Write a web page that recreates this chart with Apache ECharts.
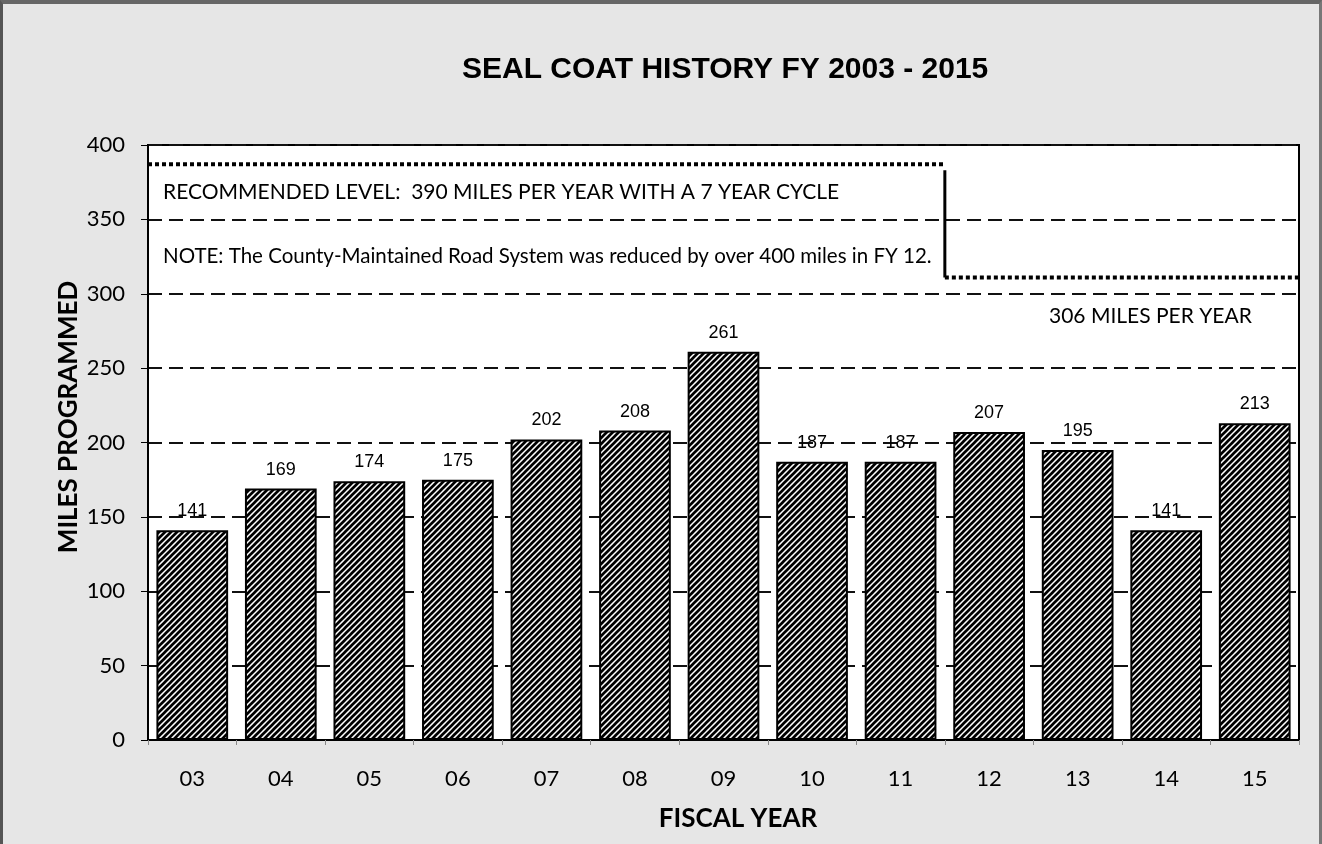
<!DOCTYPE html>
<html>
<head>
<meta charset="utf-8">
<script src="https://cdn.jsdelivr.net/npm/echarts@6/dist/echarts.min.js"></script>
<style>
  html, body { margin: 0; padding: 0; }
  body { width: 1322px; height: 844px; background: #e6e6e6; }
  #chart { width: 1322px; height: 844px; box-sizing: border-box; border-left: 3px solid #555; border-top: 4px solid #666; border-right: 3px solid #777; }
</style>
</head>
<body>
<div id="chart"></div>
<script>
  // fiscal years and miles programmed
  const years = ['03', '04', '05', '06', '07', '08', '09', '10', '11', '12', '13', '14', '15'];
  const miles = [141, 169, 174, 175, 202, 208, 261, 187, 187, 207, 195, 141, 213];
  const yTicks = [0, 50, 100, 150, 200, 250, 300, 350, 400];
  // recommended levels as drawn (before / after the FY 12 reduction)
  const levelBefore = 387;
  const levelAfter = 311;
  const changeAt = 9; // boundary between FY 11 and FY 12

  // diagonal hatch for the bars
  function hatch() {
    const s = 6;
    const c = document.createElement('canvas');
    c.width = s; c.height = s;
    const g = c.getContext('2d');
    g.fillStyle = '#fff';
    g.fillRect(0, 0, s, s);
    g.strokeStyle = '#000';
    g.lineWidth = 2.7;
    g.beginPath();
    g.moveTo(-1, 1); g.lineTo(1, -1);
    g.moveTo(0, s); g.lineTo(s, 0);
    g.moveTo(s - 1, s + 1); g.lineTo(s + 1, s - 1);
    g.stroke();
    return c;
  }

  const myChart = echarts.init(document.getElementById('chart'));
  const calibri = 'Lato, "Open Sans", sans-serif';
  const arial = '"Liberation Sans", Arial, sans-serif';
  const option = {
    animation: false,
    title: {
      text: 'SEAL COAT HISTORY FY 2003 - 2015',
      left: 454,
      top: 46,
      textStyle: { fontFamily: arial, fontWeight: 'bold', fontSize: 30, color: '#000' }
    },
    grid: {
      left: 145, right: 20, top: 141, bottom: 104,
      show: true, backgroundColor: '#fff', borderColor: '#000', borderWidth: 2
    },
    xAxis: [{
      type: 'category',
      data: years,
      axisLine: { lineStyle: { color: '#000', width: 2 } },
      axisTick: { show: true, length: 5, lineStyle: { color: '#888' } },
      axisLabel: { fontFamily: calibri, fontSize: 22, color: '#000', margin: 28 }
    }, {
      type: 'value',
      min: 0, max: years.length,
      show: false
    }],
    yAxis: {
      type: 'value',
      min: 0, max: 400, interval: 50,
      axisLine: { show: true, lineStyle: { color: '#000', width: 2 } },
      axisTick: { show: true, length: 7, lineStyle: { color: '#000' } },
      axisLabel: {
        fontFamily: calibri, fontSize: 22, color: '#000', margin: 23,
        formatter: v => yTicks.indexOf(v) >= 0 ? String(v) : ''
      },
      splitLine: { show: true, lineStyle: { color: '#111', width: 2, type: [14, 7] } }
    },
    graphic: [
      { type: 'text', x: 66, y: 413, rotation: Math.PI / 2,
        style: { text: 'MILES PROGRAMMED', font: 'bold 26px ' + calibri, fill: '#000', align: 'center', verticalAlign: 'middle' } },
      { type: 'text', x: 735, y: 815,
        style: { text: 'FISCAL YEAR', font: 'bold 26px ' + calibri, fill: '#000', align: 'center', verticalAlign: 'middle' } },
      { type: 'text', x: 160, y: 188,
        style: { text: 'RECOMMENDED LEVEL:  390 MILES PER YEAR WITH A 7 YEAR CYCLE', font: '21px ' + calibri, fill: '#000', verticalAlign: 'middle' } },
      { type: 'text', x: 160, y: 252,
        style: { text: 'NOTE: The County-Maintained Road System was reduced by over 400 miles in FY 12.', font: '20.5px ' + calibri, fill: '#000', verticalAlign: 'middle' } },
      { type: 'text', x: 1046, y: 312,
        style: { text: '306 MILES PER YEAR', font: '21px ' + calibri, fill: '#000', verticalAlign: 'middle' } }
    ],
    series: [{
      type: 'bar',
      data: miles,
      barCategoryGap: '19%',
      itemStyle: { color: { image: hatch(), repeat: 'repeat' }, borderColor: '#000', borderWidth: 2 },
      label: { show: true, position: 'top', distance: 10, fontFamily: arial, fontSize: 18, color: '#000' }
    }, {
      type: 'line',
      xAxisIndex: 1,
      data: [[0, levelBefore], [changeAt, levelBefore]],
      symbol: 'none',
      lineStyle: { color: '#000', width: 4, type: [4, 3], cap: 'butt' },
      z: 5
    }, {
      type: 'line',
      xAxisIndex: 1,
      data: [[changeAt, levelAfter], [years.length, levelAfter]],
      symbol: 'none',
      lineStyle: { color: '#000', width: 4, type: [4, 3], cap: 'butt' },
      z: 5
    }, {
      type: 'line',
      xAxisIndex: 1,
      data: [[changeAt, levelBefore - 4], [changeAt, levelAfter]],
      symbol: 'none',
      lineStyle: { color: '#000', width: 3 },
      z: 5
    }]
  };
  myChart.setOption(option);
</script>
</body>
</html>
